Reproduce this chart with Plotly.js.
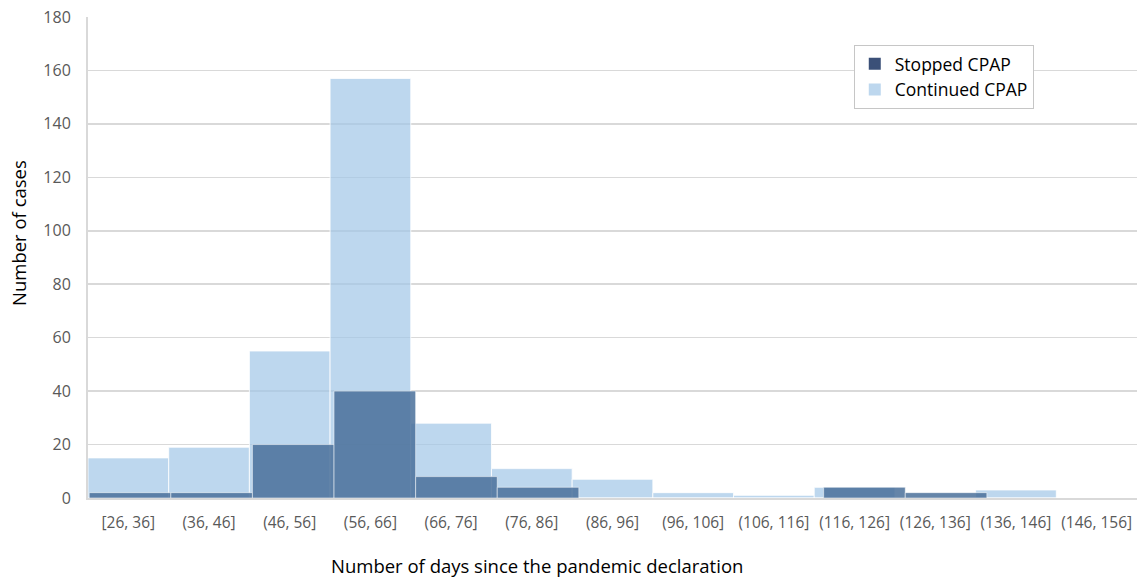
<!DOCTYPE html>
<html>
<head>
<meta charset="utf-8">
<script src="https://cdn.plot.ly/plotly-3.0.1.min.js"></script>
<style>html,body{margin:0;padding:0;background:#fff;}#chart{width:1137px;height:581px;}</style>
</head>
<body>
<div id="chart"></div>
<script>
const categories = ["[26, 36]","(36, 46]","(46, 56]","(56, 66]","(66, 76]","(76, 86]","(86, 96]","(96, 106]","(106, 116]","(116, 126]","(126, 136]","(136, 146]","(146, 156]"];
const continuedCPAP = [15, 19, 55, 157, 28, 11, 7, 2, 1, 4, 0, 3, 0];
const stoppedCPAP   = [2, 2, 20, 40, 8, 4, 0, 0, 0, 4, 2, 0, 0];
const yTicks = [0, 20, 40, 60, 80, 100, 120, 140, 160, 180];

const FONT = "'Open Sans', 'Noto Sans', sans-serif";
const lightFill = "rgba(161,198,231,0.7)";
const darkFill = "rgba(74,112,154,0.85)";

const traces = [
  {
    type: "bar", x: categories, y: continuedCPAP, xaxis: "x", yaxis: "y",
    marker: {color: lightFill, line: {color: "rgba(255,255,255,0.8)", width: 1}},
    width: 1, showlegend: false, hoverinfo: "x+y"
  },
  {
    type: "bar", x: categories, y: stoppedCPAP, xaxis: "x2", yaxis: "y",
    marker: {color: darkFill, line: {color: "rgba(255,255,255,0.5)", width: 1}},
    width: 1, showlegend: false, hoverinfo: "x+y"
  },
  {
    type: "bar", x: [categories[0]], y: [0], name: "Stopped CPAP", xaxis: "x", yaxis: "y",
    marker: {color: "#3B5078", line: {width: 0}}, showlegend: true, hoverinfo: "skip"
  },
  {
    type: "bar", x: [categories[0]], y: [0], name: "Continued CPAP", xaxis: "x", yaxis: "y",
    marker: {color: "#BDD7EE", line: {width: 0}}, showlegend: true, hoverinfo: "skip"
  }
];

const layout = {
  width: 1137, height: 581,
  margin: {l: 88, r: 0, t: 17, b: 83},
  paper_bgcolor: "#fff", plot_bgcolor: "#fff",
  barmode: "overlay", bargap: 0,
  font: {family: FONT, color: "#595959"},
  xaxis: {
    type: "category", range: [-0.5, 12.5],
    tickfont: {size: 15.5, color: "#595959", family: FONT},
    showgrid: false, showline: true, linecolor: "#d9d9d9", linewidth: 1.5,
    ticks: "", ticklabelstandoff: 10, fixedrange: true
  },
  xaxis2: {
    type: "category", overlaying: "x", range: [-0.515, 12.34],
    visible: false, fixedrange: true
  },
  yaxis: {
    range: [0, 180], tickvals: yTicks, ticktext: yTicks.map(String),
    tickfont: {size: 16, color: "#595959", family: FONT},
    showgrid: true, gridcolor: "#d9d9d9", gridwidth: 1.5,
    zeroline: false, showline: true, linecolor: "#d9d9d9", linewidth: 2,
    ticks: "", ticklabelstandoff: 12, fixedrange: true
  },
  legend: {
    x: 0.730, y: 0.942, xanchor: "left", yanchor: "top",
    bgcolor: "#fff", bordercolor: "#c6c6c6", borderwidth: 1,
    font: {size: 17.5, color: "#000", family: FONT},
    traceorder: "normal", itemwidth: 30
  },
  annotations: [
    {text: "Number of days since the pandemic declaration", xref: "paper", yref: "paper",
     x: (537 - 88) / 1049, y: -(580 - 498) / 481, xanchor: "center", yanchor: "bottom", showarrow: false,
     font: {size: 18.5, color: "#000", family: FONT}},
    {text: "Number of cases", xref: "paper", yref: "paper", textangle: -90,
     x: (18 - 88) / 1049, y: (498 - 233) / 481, xanchor: "center", yanchor: "middle", showarrow: false,
     font: {size: 18.5, color: "#000", family: FONT}}
  ]
};

Plotly.newPlot("chart", traces, layout, {displayModeBar: false, staticPlot: true});
</script>
</body>
</html>
